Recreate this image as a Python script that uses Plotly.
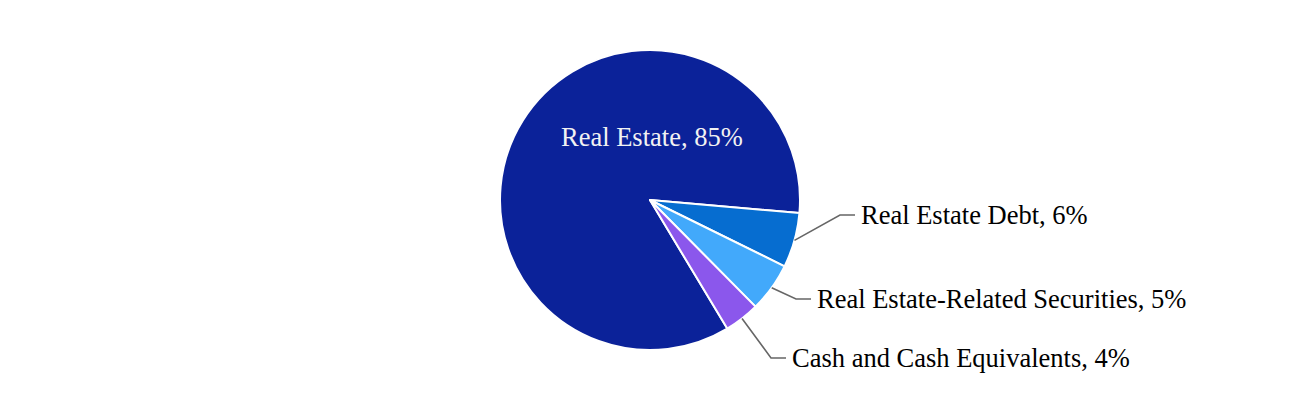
import math
import plotly.graph_objects as go

# ---- data ----
categories = ["Real Estate", "Real Estate Debt", "Real Estate-Related Securities", "Cash and Cash Equivalents"]
values = [85.0, 5.9, 5.3, 3.8]
pct_labels = ["85%", "6%", "5%", "4%"]
colors = ["#0b2299", "#066dd0", "#42a9fb", "#8b57ec"]

# ---- layout constants ----
W, H = 1300, 400
CX, CY, R = 650, 200, 150
ROTATION = 149  # degrees clockwise from 12 o'clock where first slice starts
FONT = "Liberation Serif, Times New Roman, serif"
FS = 26.5
# outside label anchor (left x, center y) in px for slices 1..3
label_pos = {1: (859, 215), 2: (815, 299), 3: (790, 358)}
inside_label_pos = (652, 137)

fig = go.Figure()
fig.add_trace(go.Pie(
    labels=categories, values=values, sort=False, direction="clockwise",
    rotation=ROTATION, marker=dict(colors=colors, line=dict(color="white", width=2)),
    textinfo="none", hoverinfo="label+percent",
    domain=dict(x=[0.25, 0.75], y=[0.125, 0.875]), showlegend=False,
))

def px_to_paper(x, y):
    return x / W, 1 - y / H

total = sum(values)
annotations = []
shapes = []
cum = 0.0
for i, (cat, v, p) in enumerate(zip(categories, values, pct_labels)):
    start = ROTATION + 360 * cum / total
    cum += v
    end = ROTATION + 360 * cum / total
    mid = math.radians((start + end) / 2)
    text = f"{cat}, {p}"
    if i == 0:
        x, y = px_to_paper(*inside_label_pos)
        annotations.append(dict(x=x, y=y, xref="paper", yref="paper", text=text, showarrow=False,
                                font=dict(family=FONT, size=FS, color="#f2f2f2"),
                                xanchor="center", yanchor="middle"))
        continue
    sx, sy = CX + R * math.sin(mid), CY - R * math.cos(mid)
    lx, ly = label_pos[i]
    ex, ey = lx - 19, ly
    hx = lx - 4
    pts = [px_to_paper(sx, sy), px_to_paper(ex, ey), px_to_paper(hx, ey)]
    path = "M {} {} L {} {} L {} {}".format(*[c for pt in pts for c in pt])
    shapes.append(dict(type="path", path=path, xref="paper", yref="paper",
                       line=dict(color="#666666", width=1.6)))
    x, y = px_to_paper(lx, ly)
    annotations.append(dict(x=x, y=y, xref="paper", yref="paper", text=text, showarrow=False,
                            font=dict(family=FONT, size=FS, color="#000000"),
                            xanchor="left", yanchor="middle"))

fig.update_layout(
    width=W, height=H, margin=dict(l=0, r=0, t=0, b=0),
    paper_bgcolor="white", plot_bgcolor="white",
    annotations=annotations, shapes=shapes,
)
fig.write_html("out.html", config={"displayModeBar": False},
               post_script="document.body.style.margin='0';")
